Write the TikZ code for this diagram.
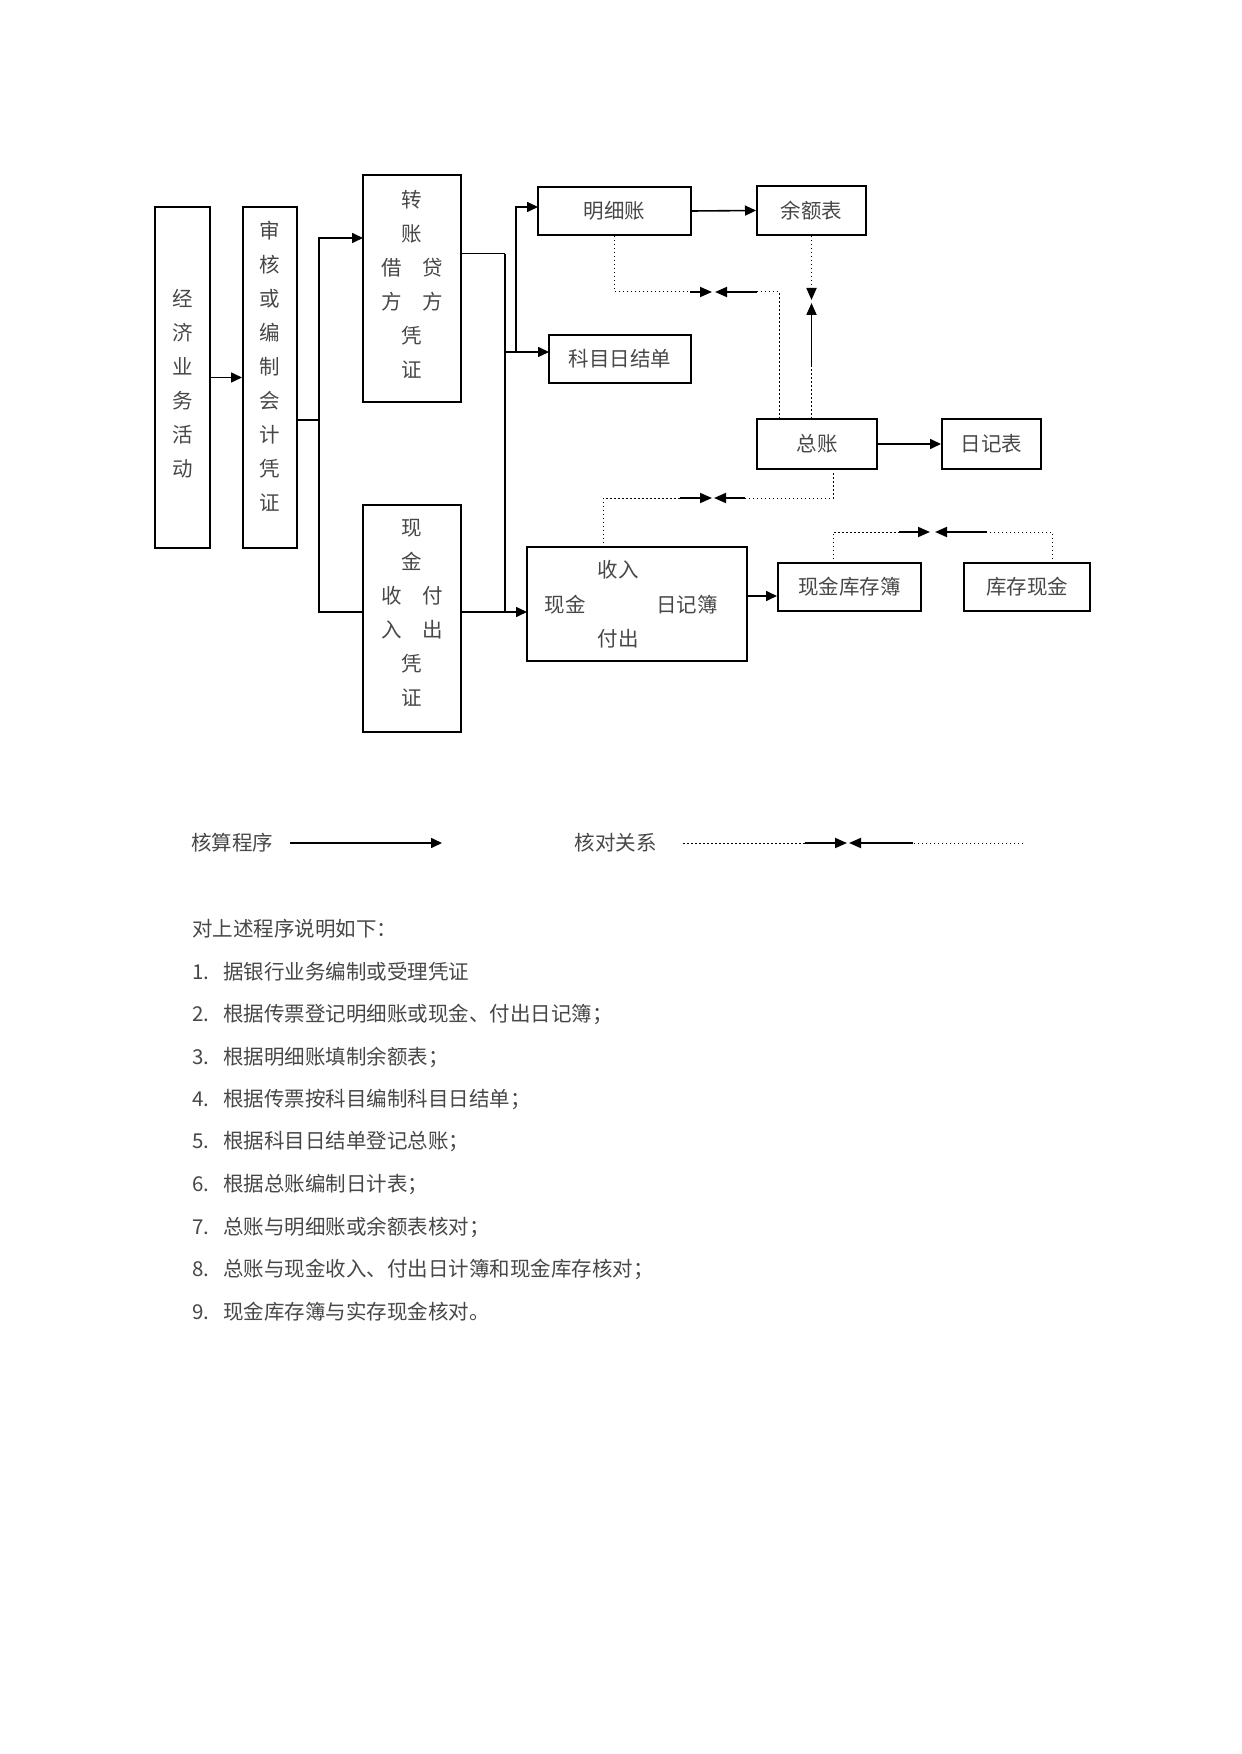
\documentclass[tikz,border=0pt]{standalone}
\usepackage{fontspec}
\setmainfont{Noto Sans CJK SC}
\usetikzlibrary{arrows.meta}
\newcommand{\boxfont}{\fontsize{10.25pt}{17pt}\selectfont}

\begin{document}
\begin{tikzpicture}[x=0.5pt,y=-0.5pt,
    box/.style={draw, line width=1pt, inner sep=0pt, align=center, font=\boxfont, text=black!72},
    txt/.style={inner sep=0pt, align=center, font=\boxfont, text=black!72},
    flow/.style={line width=0.8pt, -{Triangle[length=5.5pt,width=5pt]}},
    link/.style={line width=0.8pt},
    thinlink/.style={line width=0.5pt},
    dots/.style={line width=0.5pt, dash pattern=on 0.75pt off 1.25pt},
    meet/.style={line width=0.9pt, -{Triangle[length=6pt,width=5pt]}}]

    % --- Page ---
    \useasboundingbox (0,0) rectangle (1241,1754);

    % --- Boxes ---
    \node[box, minimum width=27.5pt, minimum height=170.5pt] (econ) at (182.5,377.5) {};
    \node[box, minimum width=27pt, minimum height=170.5pt] (audit) at (270,377.5) {};
    \node[box, minimum width=49pt, minimum height=113.5pt] (zhuan) at (412,288.5) {};
    \node[box, minimum width=49pt, minimum height=113.5pt] (cashv) at (412,618.5) {};
    \node[box, minimum width=76.5pt, minimum height=24pt] (mingxi) at (614.5,211) {明细账};
    \node[box, minimum width=54.5pt, minimum height=24.5pt] (yue) at (811.5,210.5) {余额表};
    \node[box, minimum width=71pt, minimum height=24pt] (kemu) at (620,359) {科目日结单};
    \node[box, minimum width=60pt, minimum height=25pt] (zong) at (817,444) {总账};
    \node[box, minimum width=49.5pt, minimum height=25pt] (riji) at (991.5,444) {日记表};
    \node[box, minimum width=110pt, minimum height=57pt] (cashbook) at (637,604) {};
    \node[box, minimum width=71.5pt, minimum height=24pt] (kcb) at (849.5,587) {现金库存簿};
    \node[box, minimum width=63pt, minimum height=24pt] (kcxj) at (1027,587) {库存现金};

    % Vertical texts of the tall boxes
    \node[txt] (econtxt) at (182.5,383.5) {经\\济\\业\\务\\活\\动};
    \node[txt] (audittxt) at (270,366.5) {审\\核\\或\\编\\制\\会\\计\\凭\\证};
    \node[txt] (zhuantxt) at (412,284) {转\\账\\借\quad 贷\\方\quad 方\\凭\\证};
    \node[txt] (cashvtxt) at (412,613) {现\\金\\收\quad 付\\入\quad 出\\凭\\证};

    % Texts inside the cash journal box
    \node[txt] (cbin) at (618,570) {收入};
    \node[txt] (cbcash) at (565,605) {现金};
    \node[txt] (cbbook) at (687,605) {日记簿};
    \node[txt] (cbout) at (618,639) {付出};

    % --- Define Coordinates ---
    \coordinate (fork1) at (319,420);
    \coordinate (zin) at (363,238);
    \coordinate (cin) at (363,612);
    \coordinate (zout) at (461,254);
    \coordinate (bus) at (505,254);
    \coordinate (bus2) at (505,352);
    \coordinate (busend) at (505,612);
    \coordinate (cout) at (461,612);
    \coordinate (cbin2) at (527,612);
    \coordinate (fork2) at (516,352);
    \coordinate (min) at (538,207);
    \coordinate (kin) at (549,352);
    \coordinate (cbout2) at (747,596);

    % --- Accounting flow ---
    \draw[flow] (econ.east) -- (audit.west);
    \draw[link] (audit.east |- fork1) -- (fork1) |- (cin);
    \draw[flow] (fork1) |- (zin);
    \draw[thinlink] (zout) -- (bus);
    \draw[link] (bus) -- (busend);
    \draw[flow] (cout) -- (cbin2);
    \draw[flow] (bus2) -- (kin);
    \draw[flow] (fork2) |- (min);
    \draw[flow] (mingxi.east) -- (yue.west);
    \draw[flow] (zong.east) -- (riji.west);
    \draw[flow] (cbout2) -- (kcb.west |- cbout2);

    % --- Checking relations ---
    % mingxi and zong
    \coordinate (c1b) at (690,292);
    \coordinate (c1m) at (712,292);
    \coordinate (c1z) at (779,419);
    \coordinate (c1c) at (757,292);
    \coordinate (c1n) at (715,292);
    \draw[dots] (mingxi.south) |- (c1b);
    \draw[meet] (c1b) -- (c1m);
    \draw[dots] (c1z) |- (c1c);
    \draw[meet] (c1c) -- (c1n);

    % yue and zong
    \coordinate (c2a) at (811.5,288);
    \coordinate (c2m) at (811.5,300);
    \coordinate (c2z) at (811.5,419);
    \coordinate (c2b) at (811.5,367);
    \coordinate (c2n) at (811.5,303);
    \draw[dots] (yue.south) -- (c2a);
    \draw[meet] (c2a) -- (c2m);
    \draw[dots] (c2z) -- (c2b);
    \draw[meet] (c2b) -- (c2n);

    % zong and cash journal
    \coordinate (c3z) at (833,469);
    \coordinate (c3a) at (745,498);
    \coordinate (c3n) at (714,498);
    \coordinate (c3r) at (603,547);
    \coordinate (c3b) at (680,498);
    \coordinate (c3m) at (712,498);
    \draw[dots] (c3z) |- (c3a);
    \draw[meet] (c3a) -- (c3n);
    \draw[dots] (c3r) |- (c3b);
    \draw[meet] (c3b) -- (c3m);

    % cash stock book and cash on hand
    \coordinate (c4k) at (833,563);
    \coordinate (c4a) at (899,532);
    \coordinate (c4m) at (930,532);
    \coordinate (c4x) at (1052,563);
    \coordinate (c4b) at (987,532);
    \coordinate (c4n) at (935,532);
    \draw[dots] (c4k) |- (c4a);
    \draw[meet] (c4a) -- (c4m);
    \draw[dots] (c4x) |- (c4b);
    \draw[meet] (c4b) -- (c4n);

    % --- Legend ---
    \node[txt] (lgflow) at (232,843) {核算程序};
    \coordinate (lf1) at (290,843);
    \coordinate (lf2) at (442,843);
    \draw[flow] (lf1) -- (lf2);

    \node[txt] (lgcheck) at (615.5,843) {核对关系};
    \coordinate (lc1) at (683,843);
    \coordinate (lc2) at (805,843);
    \coordinate (lc3) at (847,843);
    \coordinate (lc4) at (849,843);
    \coordinate (lc5) at (913,843);
    \coordinate (lc6) at (1023,843);
    \draw[dots] (lc1) -- (lc2);
    \draw[meet] (lc2) -- (lc3);
    \draw[dots] (lc6) -- (lc5);
    \draw[meet] (lc5) -- (lc4);

    % --- Notes ---
    \node[txt, anchor=west] (note0) at (192,929) {对上述程序说明如下：};
    \node[txt, anchor=west] (note1) at (192,972) {\makebox[15.5pt][l]{1.}据银行业务编制或受理凭证};
    \node[txt, anchor=west] (note2) at (192,1014.5) {\makebox[15.5pt][l]{2.}根据传票登记明细账或现金、付出日记簿；};
    \node[txt, anchor=west] (note3) at (192,1057) {\makebox[15.5pt][l]{3.}根据明细账填制余额表；};
    \node[txt, anchor=west] (note4) at (192,1099.5) {\makebox[15.5pt][l]{4.}根据传票按科目编制科目日结单；};
    \node[txt, anchor=west] (note5) at (192,1142) {\makebox[15.5pt][l]{5.}根据科目日结单登记总账；};
    \node[txt, anchor=west] (note6) at (192,1184.5) {\makebox[15.5pt][l]{6.}根据总账编制日计表；};
    \node[txt, anchor=west] (note7) at (192,1227) {\makebox[15.5pt][l]{7.}总账与明细账或余额表核对；};
    \node[txt, anchor=west] (note8) at (192,1269.5) {\makebox[15.5pt][l]{8.}总账与现金收入、付出日计簿和现金库存核对；};
    \node[txt, anchor=west] (note9) at (192,1312) {\makebox[15.5pt][l]{9.}现金库存簿与实存现金核对。};

\end{tikzpicture}
\end{document}
